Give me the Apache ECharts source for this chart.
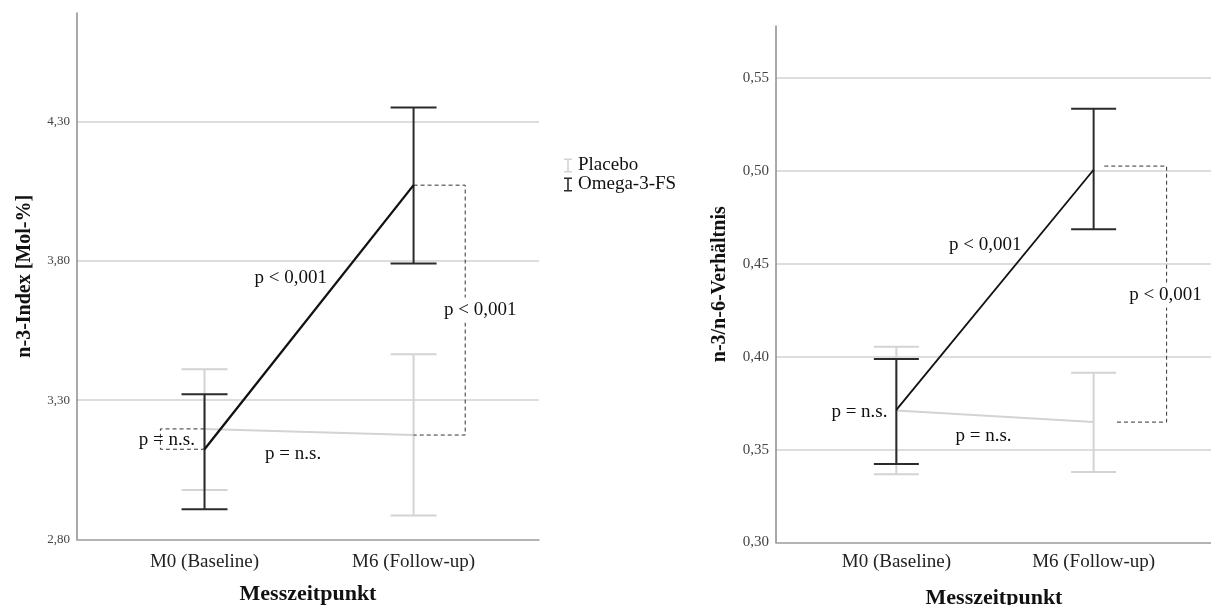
<!DOCTYPE html>
<html>
<head>
<meta charset="utf-8">
<script src="https://cdn.jsdelivr.net/npm/echarts@6/dist/echarts.min.js"></script>
<style>
html,body{margin:0;padding:0;background:#fff;}
#main{width:1211px;height:605px;}
</style>
</head>
<body>
<div id="main"></div>
<script>
// ---------- data ----------
const categories = ['M0 (Baseline)', 'M6 (Follow-up)'];
const seriesNames = ['Placebo', 'Omega-3-FS'];

// Left panel: n-3-Index [Mol-%]
const n3PlaceboMean = [3.197, 3.175];
const n3PlaceboLow  = [2.978, 2.886];
const n3PlaceboHigh = [3.411, 3.465];
const n3OmegaMean   = [3.124, 4.072];
const n3OmegaLow    = [2.909, 3.791];
const n3OmegaHigh   = [3.321, 4.351];
const n3TickLabels  = ['2,80', '3,30', '3,80', '4,30'];

// Right panel: n-3/n-6-Verhältnis
const ratioPlaceboMean = [0.3710, 0.3648];
const ratioPlaceboLow  = [0.3368, 0.3379];
const ratioPlaceboHigh = [0.4054, 0.3914];
const ratioOmegaMean   = [0.3714, 0.5006];
const ratioOmegaLow    = [0.3422, 0.4686];
const ratioOmegaHigh   = [0.3988, 0.5334];
const ratioTickLabels  = ['0,30', '0,35', '0,40', '0,45', '0,50', '0,55'];

const pTexts = ['p < 0,001', 'p = n.s.'];

// ---------- styling / layout ----------
const FONT = '"Liberation Serif", "Times New Roman", serif';
const GRAY = '#d3d3d3';
const DARK = '#2b2b2b';
const IBEAM = 'path://M0,0H8V1.6H4.8V12.4H8V14H0V12.4H3.2V1.6H0Z';

const fmtComma = (ticks) => (v) => {
  const s = v.toFixed(2).replace('.', ',');
  return ticks.includes(s) ? s : '';
};

function errorBars(name, xi, lows, highs, color, width, capHalf, z) {
  return {
    type: 'custom', name, xAxisIndex: xi, yAxisIndex: xi, z,
    itemStyle: { color },
    data: lows.map((l, i) => [i, l, highs[i]]),
    encode: { x: 0, y: [1, 2] },
    renderItem: (params, api) => {
      const x = api.value(0);
      const lo = api.coord([x, api.value(1)]);
      const hi = api.coord([x, api.value(2)]);
      const st = { stroke: color, lineWidth: width };
      return {
        type: 'group', children: [
          { type: 'line', shape: { x1: lo[0], y1: lo[1], x2: hi[0], y2: hi[1] }, style: st },
          { type: 'line', shape: { x1: lo[0] - capHalf, y1: lo[1], x2: lo[0] + capHalf, y2: lo[1] }, style: st },
          { type: 'line', shape: { x1: hi[0] - capHalf, y1: hi[1], x2: hi[0] + capHalf, y2: hi[1] }, style: st }
        ]
      };
    }
  };
}

function meanLine(name, xi, means, color, width, z) {
  return {
    type: 'line', name, xAxisIndex: xi, yAxisIndex: xi, z,
    data: means.map((m, i) => [i, m]),
    symbol: 'none', silent: true,
    itemStyle: { color },
    lineStyle: { color, width }
  };
}

function bracket(xi, pts) {
  return {
    type: 'line', name: 'bracket' + xi + pts[0][0], xAxisIndex: xi, yAxisIndex: xi, z: 3,
    data: pts, symbol: 'none', silent: true,
    lineStyle: { color: '#333', width: 1, type: [4, 3] }
  };
}

function annotations(xi, items, fontSize) {
  return {
    type: 'custom', name: 'ann' + xi, xAxisIndex: xi, yAxisIndex: xi, z: 6, silent: true,
    data: items.map(a => [a.x, a.y]),
    renderItem: (params, api) => {
      const a = items[params.dataIndex];
      const p = api.coord([api.value(0), api.value(1)]);
      const style = {
        text: a.text, fill: '#111', fontSize, fontFamily: FONT,
        align: 'center', verticalAlign: 'middle'
      };
      if (a.bg) { style.backgroundColor = '#fff'; style.padding = [3, 0]; }
      return { type: 'text', x: p[0], y: p[1], style };
    }
  };
}

// annotation placement (data coordinates of each panel)
const leftAnn = [
  { text: pTexts[0], x: 0.412, y: 3.739 },
  { text: pTexts[1], x: -0.18, y: 3.157 },
  { text: pTexts[1], x: 0.424, y: 3.107 },
  { text: pTexts[0], x: 1.319, y: 3.624, bg: true }
];
const rightAnn = [
  { text: pTexts[0], x: 0.451, y: 0.460 },
  { text: pTexts[1], x: -0.187, y: 0.3705 },
  { text: pTexts[1], x: 0.442, y: 0.3574 },
  { text: pTexts[0], x: 1.364, y: 0.4331, bg: true }
];

function xAxisCfg(gi, labelMargin, nameGap) {
  return {
    gridIndex: gi, type: 'value', min: -0.61, max: 1.6,
    axisLine: { show: true, onZero: false, lineStyle: { color: '#9a9a9a', width: 1.5 } },
    axisTick: { show: false },
    splitLine: { show: false },
    axisLabel: {
      customValues: [0, 1],
      formatter: (v) => categories[Math.round(v)],
      fontSize: 19, fontFamily: FONT, color: '#222', margin: labelMargin
    },
    name: 'Messzeitpunkt', nameLocation: 'middle', nameGap,
    nameTextStyle: { fontSize: 22, fontWeight: 'bold', fontFamily: FONT, color: '#111' }
  };
}

function yAxisCfg(gi, min, max, interval, ticks, labelSize, name, nameGap) {
  return {
    gridIndex: gi, type: 'value', min, max, interval,
    axisLine: { show: true, onZero: false, lineStyle: { color: '#8c8c8c', width: 1.5 } },
    axisTick: { show: false },
    splitLine: { show: true, showMinLine: false, showMaxLine: false, lineStyle: { color: '#d2d2d2', width: 1.5 } },
    axisLabel: { formatter: fmtComma(ticks), fontSize: labelSize, fontFamily: FONT, color: '#444', margin: 7 },
    name, nameLocation: 'middle', nameGap,
    nameTextStyle: { fontSize: 20, fontWeight: 'bold', fontFamily: FONT, color: '#111' }
  };
}

const option = {
  animation: false,
  backgroundColor: '#fff',
  textStyle: { fontFamily: FONT },
  grid: [
    { left: 77, top: 13, width: 462, height: 526.5, containLabel: false, outerBoundsMode: 'none' },
    { left: 776, top: 26, width: 436, height: 516.5, containLabel: false, outerBoundsMode: 'none' }
  ],
  legend: {
    orient: 'vertical', left: 564, top: 156, padding: 0,
    itemWidth: 10, itemHeight: 14, itemGap: 0,
    textStyle: { fontSize: 19, fontFamily: FONT, color: '#111' },
    data: [{ name: seriesNames[0], icon: IBEAM }, { name: seriesNames[1], icon: IBEAM }],
    selectedMode: false
  },
  xAxis: [xAxisCfg(0, 13, 44), xAxisCfg(1, 10, 45)],
  yAxis: [
    yAxisCfg(0, 2.8, 4.69, 0.5, n3TickLabels, 13, 'n-3-Index [Mol-%]', 42),
    yAxisCfg(1, 0.3, 0.578, 0.05, ratioTickLabels, 15, 'n-3/n-6-Verhältnis', 46)
  ],
  series: [
    // left panel
    errorBars(seriesNames[0], 0, n3PlaceboLow, n3PlaceboHigh, GRAY, 2, 23, 2),
    meanLine(seriesNames[0], 0, n3PlaceboMean, GRAY, 2, 2),
    errorBars(seriesNames[1], 0, n3OmegaLow, n3OmegaHigh, DARK, 2, 23, 4),
    meanLine(seriesNames[1], 0, n3OmegaMean, '#111', 2.3, 4),
    bracket(0, [[0, n3PlaceboMean[0]], [-0.211, n3PlaceboMean[0]], [-0.211, n3OmegaMean[0]], [0, n3OmegaMean[0]]]),
    bracket(0, [[1.0, n3OmegaMean[1]], [1.247, n3OmegaMean[1]], [1.247, n3PlaceboMean[1]], [1.0, n3PlaceboMean[1]]]),
    annotations(0, leftAnn, 19),
    // right panel
    errorBars(seriesNames[0], 1, ratioPlaceboLow, ratioPlaceboHigh, GRAY, 2, 22.5, 2),
    meanLine(seriesNames[0], 1, ratioPlaceboMean, GRAY, 2, 2),
    errorBars(seriesNames[1], 1, ratioOmegaLow, ratioOmegaHigh, DARK, 2, 22.5, 4),
    meanLine(seriesNames[1], 1, ratioOmegaMean, '#111', 1.8, 4),
    bracket(1, [[1.054, ratioOmegaMean[1] + 0.002], [1.37, ratioOmegaMean[1] + 0.002], [1.37, ratioPlaceboMean[1]], [1.11, ratioPlaceboMean[1]]]),
    annotations(1, rightAnn, 19)
  ]
};

const chart = echarts.init(document.getElementById('main'), null, { renderer: 'canvas' });
chart.setOption(option);
</script>
</body>
</html>
